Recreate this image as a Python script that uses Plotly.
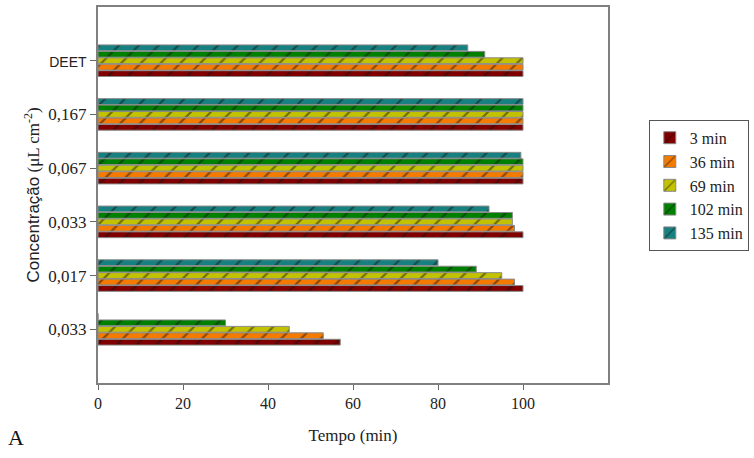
import plotly.graph_objects as go

categories = ["0,033", "0,017", "0,033", "0,067", "0,167", "DEET"]  # bottom to top
series_names = ["3 min", "36 min", "69 min", "102 min", "135 min"]
colors = ["#800000", "#f57a00", "#c2c200", "#008000", "#178080"]

v_3 = [57, 100, 100, 100, 100, 100]
v_36 = [53, 98, 98, 100, 100, 100]
v_69 = [45, 95, 97.5, 100, 100, 100]
v_102 = [30, 89, 97.5, 100, 100, 91]
v_135 = [0, 80, 92, 99.5, 100, 87]
values = [v_3, v_36, v_69, v_102, v_135]

xticks = [0, 20, 40, 60, 80, 100]

ypos = list(range(len(categories)))
ticktext = [
    ('<span style="font-family:Arial, Liberation Sans;font-size:14px">%s</span>' % c) if c == "DEET" else c
    for c in categories
]

fig = go.Figure()
for name, col, vals in zip(series_names, colors, values):
    fig.add_trace(go.Bar(
        y=ypos, x=vals, name=name, orientation="h",
        marker=dict(color=col, line=dict(color="#8a8a8a", width=1),
                    pattern=dict(shape="/", fgcolor="#111111", size=14, solidity=0.15)),
    ))

serif = "Liberation Serif, Times New Roman, serif"
fig.update_layout(
    width=754, height=458,
    margin=dict(l=98, r=142, t=5, b=75),
    plot_bgcolor="white", paper_bgcolor="white",
    barmode="group", bargap=0.4, bargroupgap=0.1,
    font=dict(family=serif, size=15, color="#222222"),
    showlegend=True,
    legend=dict(x=1.08, y=0.7, xanchor="left", yanchor="top",
                traceorder="normal", bordercolor="#555555", borderwidth=1,
                font=dict(family=serif, size=16, color="#222222"),
                tracegroupgap=0, itemwidth=30),
    xaxis=dict(range=[0, 120], tickvals=xticks, ticks="outside", ticklen=5,
               tickcolor="#666666", showline=True, linecolor="#808080", linewidth=2,
               mirror=True, showgrid=False, zeroline=False,
               tickfont=dict(family=serif, size=16),
               title=dict(text="Tempo (min)", font=dict(family=serif, size=17), standoff=18)),
    yaxis=dict(range=[-1, 6], tickvals=ypos, ticktext=ticktext, ticks="outside", ticklen=6,
               tickcolor="#666666", showline=True, linecolor="#808080", linewidth=2,
               mirror=True, showgrid=False, zeroline=False,
               tickfont=dict(family=serif, size=17),
               title=dict(text='<span style="font-family:Arial, Liberation Sans">Concentração</span> (μL cm<sup>-2</sup>)',
                          font=dict(family=serif, size=17), standoff=4)),
)
fig.add_annotation(text="A", xref="paper", yref="paper", x=-0.18, y=-0.145,
                   xanchor="left", yanchor="middle", showarrow=False,
                   font=dict(family=serif, size=22, color="#111111"))

fig.write_html("out.html")
